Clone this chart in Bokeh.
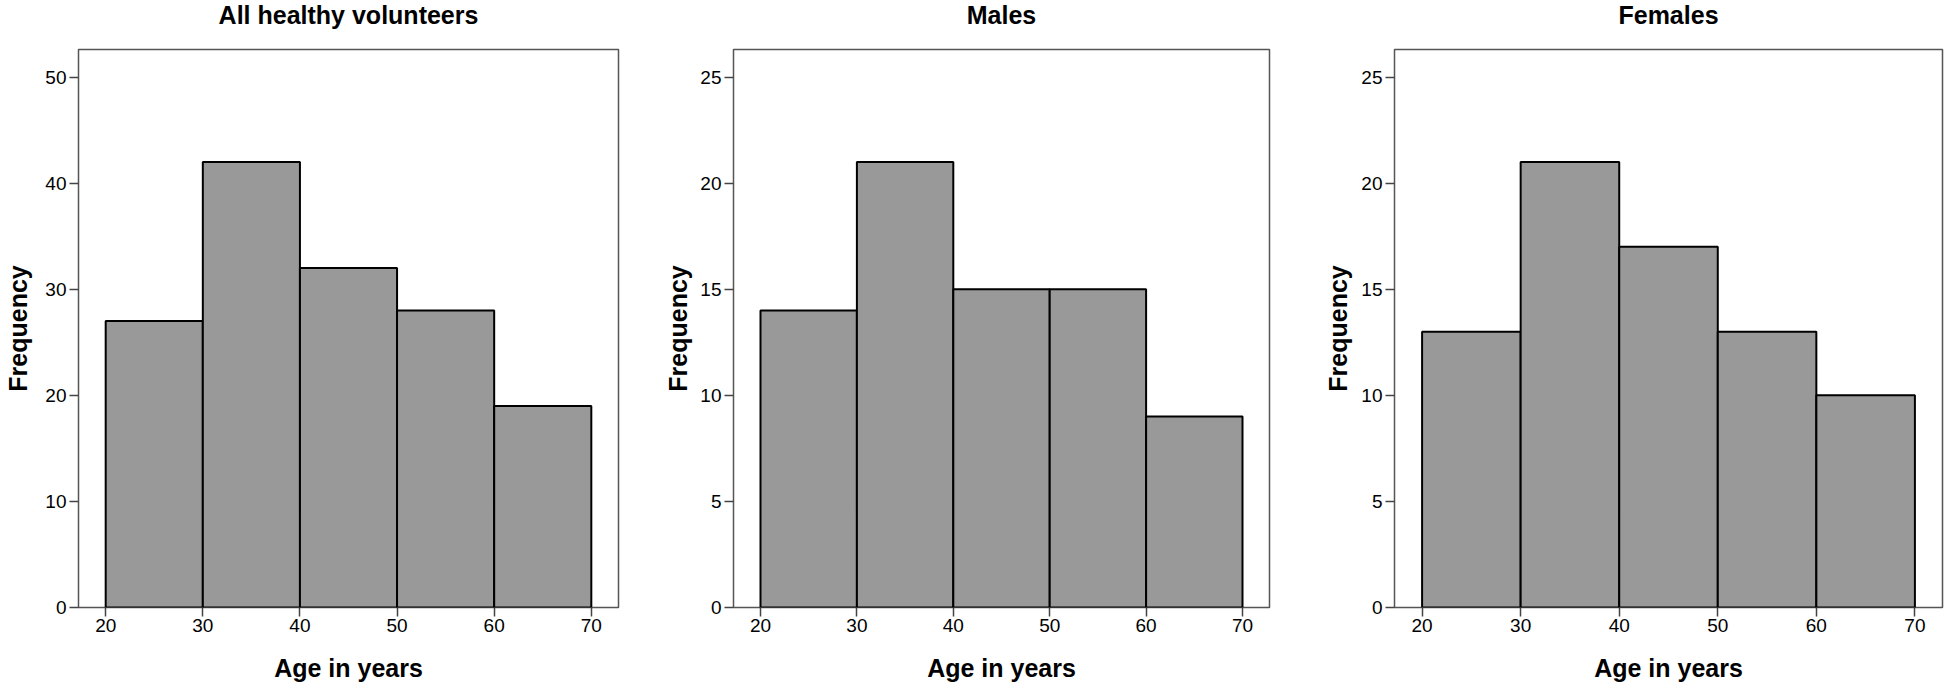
from bokeh.plotting import figure
from bokeh.layouts import row
from bokeh.models import FixedTicker, Range1d, ColumnDataSource, Title
from bokeh.embed import file_html
from bokeh.resources import INLINE

# ---- data ----
bin_left = [20, 30, 40, 50, 60]
bin_right = [30, 40, 50, 60, 70]
all_counts = [27, 42, 32, 28, 19]
male_counts = [14, 21, 15, 15, 9]
female_counts = [13, 21, 17, 13, 10]
titles = ["All healthy volunteers", "Males", "Females"]
x_ticks = [20, 30, 40, 50, 60, 70]
y_ticks_all = [0, 10, 20, 30, 40, 50]
y_ticks_sex = [0, 5, 10, 15, 20, 25]

FONT = "Liberation Sans"
FRAME_H = 558
X0, X1 = 17.2, 72.8


def make_panel(title, counts, yticks, ymax, frame_w, b_left, b_right, ylab_standoff):
    p = figure(
        output_backend="svg", toolbar_location=None,
        frame_width=frame_w, frame_height=FRAME_H,
        min_border_left=b_left, min_border_right=b_right,
        min_border_top=49, min_border_bottom=79,
        x_range=Range1d(X0, X1), y_range=Range1d(0, ymax),
    )
    src = ColumnDataSource(dict(left=bin_left, right=bin_right, top=counts,
                                bottom=[0] * len(counts)))
    p.quad(left="left", right="right", top="top", bottom="bottom", source=src,
           fill_color="#999999", line_color="#000000", line_width=2)

    # spacer between frame and title (innermost item of the "above" panel)
    spacer = Title(text=" ", text_font=FONT, text_font_size="2px", standoff=15)
    p.add_layout(spacer, "above")
    t = Title(text=title, text_font=FONT, text_font_size="25px",
              text_font_style="bold", text_color="#000000", align="center",
              vertical_align="top", standoff=0)
    p.add_layout(t, "above")

    p.xgrid.grid_line_color = None
    p.ygrid.grid_line_color = None
    p.outline_line_color = "#555555"
    p.outline_line_width = 1.5
    p.background_fill_color = "white"
    p.border_fill_color = "white"

    for ax in (p.xaxis[0], p.yaxis[0]):
        ax.axis_line_color = None
        ax.major_tick_line_color = "#444444"
        ax.major_tick_line_width = 1.5
        ax.major_tick_out = 9
        ax.major_tick_in = 0
        ax.minor_tick_line_color = None
        ax.major_label_text_font = FONT
        ax.major_label_text_font_size = "19px"
        ax.major_label_text_color = "#000000"
        ax.axis_label_text_font = FONT
        ax.axis_label_text_font_size = "25px"
        ax.axis_label_text_font_style = "bold"
        ax.axis_label_text_color = "#000000"

    p.xaxis.ticker = FixedTicker(ticks=x_ticks)
    p.yaxis.ticker = FixedTicker(ticks=yticks)
    p.xaxis.axis_label = "Age in years"
    p.yaxis.axis_label = "Frequency"
    p.xaxis.major_label_standoff = 2
    p.yaxis.major_label_standoff = 3
    p.xaxis.axis_label_standoff = 19
    p.yaxis.axis_label_standoff = ylab_standoff
    return p


p1 = make_panel(titles[0], all_counts, y_ticks_all, 52.6, 540, 78, 42, 10)
p2 = make_panel(titles[1], male_counts, y_ticks_sex, 26.3, 536, 73, 51, 5)
p3 = make_panel(titles[2], female_counts, y_ticks_sex, 26.3, 548, 74, 4, 6)

layout = row(p1, p2, p3, spacing=0)
open("out.html", "w").write(file_html(layout, INLINE))
